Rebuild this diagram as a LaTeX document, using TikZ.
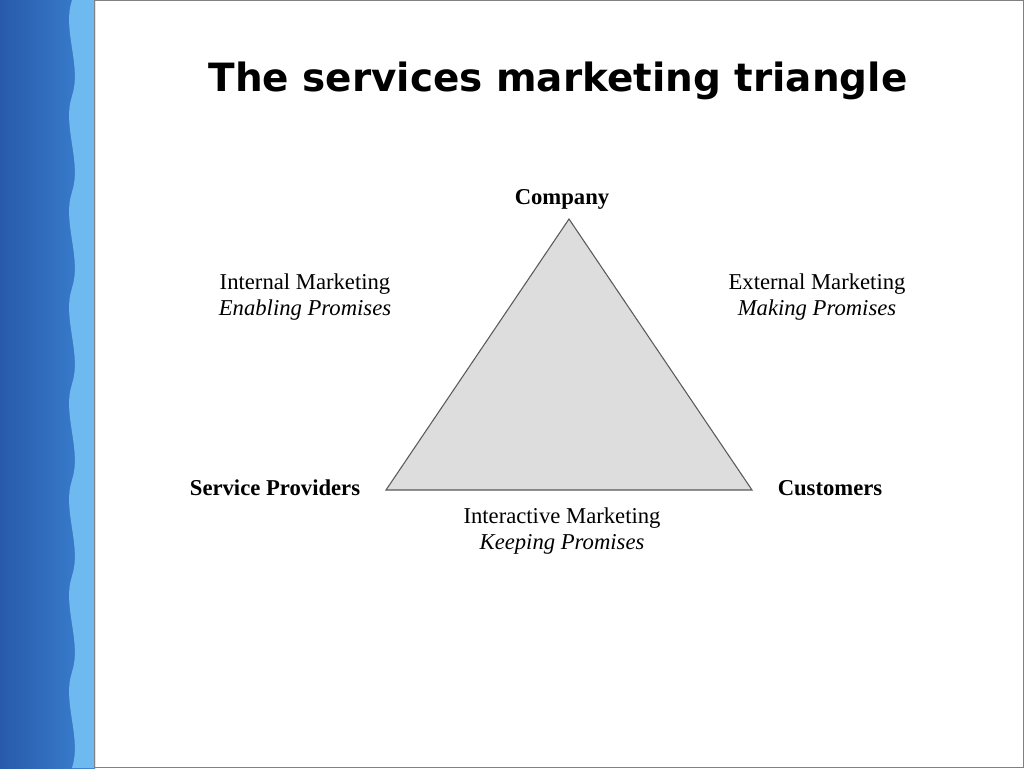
\documentclass[tikz,border=0pt]{standalone}
\usepackage{fontspec}
\setmainfont{Liberation Serif}
\newfontfamily\titlefont{DejaVu Sans}
\definecolor{bluedark}{RGB}{40,90,170}
\definecolor{bluemid}{RGB}{60,130,210}
\definecolor{bluelight}{RGB}{110,185,240}
\definecolor{trifill}{RGB}{221,221,221}
\definecolor{tridraw}{RGB}{90,90,90}
\begin{document}
\begin{tikzpicture}[x=0.75pt,y=-0.75pt,
  lbl/.style={font=\fontsize{17}{20}\selectfont,align=center,inner sep=0pt},
  vtx/.style={font=\fontsize{17}{20}\selectfont\bfseries,inner sep=0pt}]
\useasboundingbox (0,0) rectangle (1024,768);
\fill[white] (0,0) rectangle (1024,768);
\shade[left color=bluedark, right color=bluemid] (0,0) rectangle (95,768);
\fill[bluelight] (72,0)
  \foreach \k in {0,...,7} { .. controls (62,{\k*96+30}) and (82,{\k*96+66}) .. (72,{\k*96+96}) }
  -- (95,768) -- (95,0) -- cycle;
\draw[gray] (94,0.5) rectangle (1023.5,767.5);
\node[font=\titlefont\bfseries\fontsize{29.2}{34}\selectfont,inner sep=0pt] (title) at (558,81) {The services marketing triangle};
\coordinate (A) at (569,219);
\coordinate (B) at (386,490);
\coordinate (C) at (752,490);
\filldraw[fill=trifill,draw=tridraw,line width=0.8pt] (A) -- (B) -- (C) -- cycle;
\node[vtx] (company) at (562,199) {Company};
\node[vtx] (sp) at (275,488) {Service Providers};
\node[vtx] (cust) at (830,488) {Customers};
\node[lbl] (im) at (305,297) {Internal Marketing\\[0pt]\itshape Enabling Promises};
\node[lbl] (em) at (817,297) {External Marketing\\[0pt]\itshape Making Promises};
\node[lbl] (ia) at (562,531) {Interactive Marketing\\[0pt]\itshape Keeping Promises};
\end{tikzpicture}
\end{document}
